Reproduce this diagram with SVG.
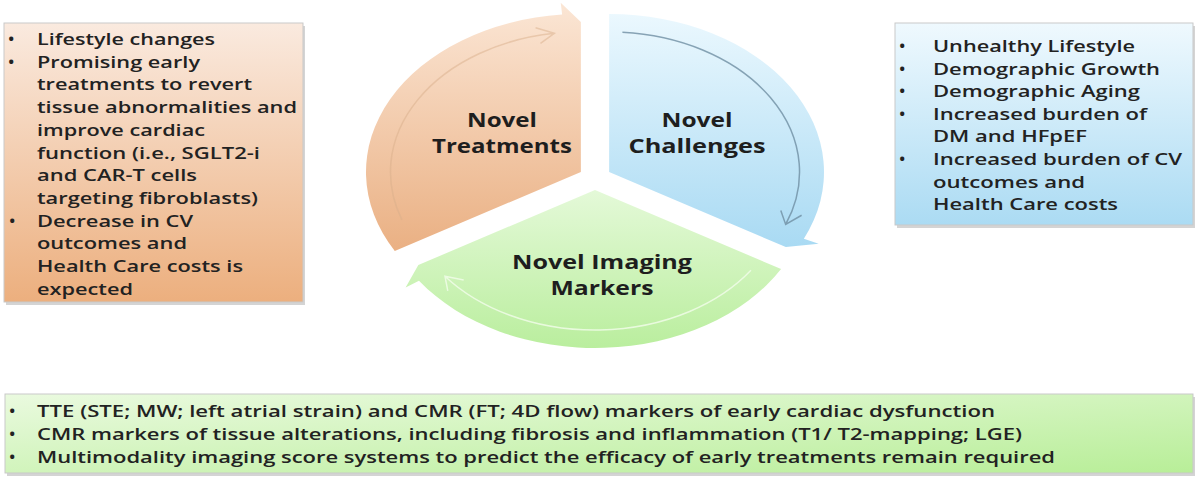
<svg xmlns="http://www.w3.org/2000/svg" width="1200" height="480" viewBox="0 0 1200 480">
<defs>
<linearGradient id="gOrBox" x1="0" y1="0" x2="0" y2="1"><stop offset="0" stop-color="#FAEADF"/><stop offset="1" stop-color="#ECAF7E"/></linearGradient>
<linearGradient id="gBlBox" x1="0" y1="0" x2="0" y2="1"><stop offset="0" stop-color="#EFF9FE"/><stop offset="1" stop-color="#ABDBF3"/></linearGradient>
<linearGradient id="gGrBox" x1="0" y1="0" x2="1" y2="1"><stop offset="0" stop-color="#EAFADF"/><stop offset="1" stop-color="#B8EE98"/></linearGradient>
<linearGradient id="gOr" x1="0" y1="0" x2="0" y2="1"><stop offset="0" stop-color="#FBE6D5"/><stop offset="1" stop-color="#EAB083"/></linearGradient>
<linearGradient id="gBl" x1="0" y1="0" x2="0" y2="1"><stop offset="0" stop-color="#EBF8FE"/><stop offset="1" stop-color="#A9DAF3"/></linearGradient>
<linearGradient id="gGr" x1="0" y1="0" x2="0" y2="1"><stop offset="0" stop-color="#E4F9D8"/><stop offset="1" stop-color="#BAEE9E"/></linearGradient>
</defs>
<style>
.box{stroke:#c9c9c9;stroke-width:1}
.sh{fill:#d4d4d4}
.t{font-family:"Open Sans","Liberation Sans",sans-serif;font-size:17px;font-weight:600;fill:#222}
.lbl{font-family:"Open Sans","Liberation Sans",sans-serif;font-size:19px;font-weight:700;fill:#1e1e1e;text-anchor:middle}
.inner{fill:none;stroke-width:1.5}
</style>

<g id="node-treatments-box">
<rect class="sh" x="6" y="26" width="299" height="279"/>
<rect class="box" x="4" y="23" width="299" height="279" fill="url(#gOrBox)"/>
<text class="t" x="8" y="45">•</text>
<text class="t" x="37" y="45" textLength="178" lengthAdjust="spacingAndGlyphs">Lifestyle changes</text>
<text class="t" x="8" y="67.7">•</text>
<text class="t" x="37" y="67.7" textLength="163" lengthAdjust="spacingAndGlyphs">Promising early</text>
<text class="t" x="37" y="90.4" textLength="215" lengthAdjust="spacingAndGlyphs">treatments to revert</text>
<text class="t" x="37" y="113.1" textLength="260" lengthAdjust="spacingAndGlyphs">tissue abnormalities and</text>
<text class="t" x="37" y="135.8" textLength="168" lengthAdjust="spacingAndGlyphs">improve cardiac</text>
<text class="t" x="37" y="158.5" textLength="223" lengthAdjust="spacingAndGlyphs">function (i.e., SGLT2-i</text>
<text class="t" x="37" y="181.2" textLength="160" lengthAdjust="spacingAndGlyphs">and CAR-T cells</text>
<text class="t" x="37" y="203.9" textLength="221" lengthAdjust="spacingAndGlyphs">targeting fibroblasts)</text>
<text class="t" x="9" y="226.6">•</text>
<text class="t" x="37" y="226.6" textLength="156" lengthAdjust="spacingAndGlyphs">Decrease in CV</text>
<text class="t" x="37" y="249.3" textLength="150" lengthAdjust="spacingAndGlyphs">outcomes and</text>
<text class="t" x="37" y="272" textLength="206" lengthAdjust="spacingAndGlyphs">Health Care costs is</text>
<text class="t" x="37" y="294.7" textLength="96" lengthAdjust="spacingAndGlyphs">expected</text>
</g>

<g id="node-challenges-box">
<rect class="sh" x="897" y="26" width="298" height="202"/>
<rect class="box" x="895" y="23" width="298" height="202" fill="url(#gBlBox)"/>
<text class="t" x="899" y="52">•</text>
<text class="t" x="933" y="52" textLength="202" lengthAdjust="spacingAndGlyphs">Unhealthy Lifestyle</text>
<text class="t" x="899" y="74.6">•</text>
<text class="t" x="933" y="74.6" textLength="227" lengthAdjust="spacingAndGlyphs">Demographic Growth</text>
<text class="t" x="899" y="97.2">•</text>
<text class="t" x="933" y="97.2" textLength="207" lengthAdjust="spacingAndGlyphs">Demographic Aging</text>
<text class="t" x="899" y="119.8">•</text>
<text class="t" x="933" y="119.8" textLength="214" lengthAdjust="spacingAndGlyphs">Increased burden of</text>
<text class="t" x="933" y="142.4" textLength="154" lengthAdjust="spacingAndGlyphs">DM and HFpEF</text>
<text class="t" x="899" y="165">•</text>
<text class="t" x="933" y="165" textLength="249" lengthAdjust="spacingAndGlyphs">Increased burden of CV</text>
<text class="t" x="933" y="187.6" textLength="152" lengthAdjust="spacingAndGlyphs">outcomes and</text>
<text class="t" x="933" y="210.2" textLength="185" lengthAdjust="spacingAndGlyphs">Health Care costs</text>
</g>

<g id="node-imaging-box">
<rect class="sh" x="7" y="397" width="1188" height="79"/>
<rect class="box" x="5" y="394" width="1188" height="79" fill="url(#gGrBox)"/>
<text class="t" x="9" y="417">•</text>
<text class="t" x="37" y="417" textLength="958" lengthAdjust="spacingAndGlyphs">TTE (STE; MW; left atrial strain) and CMR (FT; 4D flow) markers of early cardiac dysfunction</text>
<text class="t" x="9" y="440">•</text>
<text class="t" x="37" y="440" textLength="985" lengthAdjust="spacingAndGlyphs">CMR markers of tissue alterations, including fibrosis and inflammation (T1/ T2-mapping; LGE)</text>
<text class="t" x="9" y="462.5">•</text>
<text class="t" x="37" y="462.5" textLength="1018" lengthAdjust="spacingAndGlyphs">Multimodality imaging score systems to predict the efficacy of early treatments remain required</text>
</g>

<g id="node-novel-treatments">
<path d="M580.87 172 L394.78 251 A214.88 158 0 0 1 562.14 14.6 L560.72 2.65 L580.87 22 Z" fill="url(#gOr)"/>
<path class="inner" d="M401.95 219.88 A190.4 140 0 0 1 554.37 33.36 M540.48 43.38 L554.37 33.36 L535.58 27.79" stroke="#D9B08C" stroke-opacity="0.5"/>
<text class="lbl" x="502" y="127" textLength="70" lengthAdjust="spacingAndGlyphs">Novel</text>
<text class="lbl" x="502" y="153" textLength="140" lengthAdjust="spacingAndGlyphs">Treatments</text>
</g>

<g id="node-novel-challenges">
<path d="M609.13 172 L609.13 14 A214.88 158 0 0 1 803.87 238.77 L818.67 243.85 L785.8 247 Z" fill="url(#gBl)"/>
<path class="inner" d="M622.41 32.34 A190.4 140 0 0 1 785.67 224.44 M780.8 210.6 L785.67 224.44 L801.62 215.27" stroke="#6F8FA3" stroke-opacity="0.8"/>
<text class="lbl" x="697" y="127" textLength="71" lengthAdjust="spacingAndGlyphs">Novel</text>
<text class="lbl" x="697" y="153" textLength="137" lengthAdjust="spacingAndGlyphs">Challenges</text>
</g>

<g id="node-novel-imaging">
<path d="M595 190 L781.09 269 A214.88 158 0 0 1 418.98 280.63 L405.61 287.51 L418.33 265 Z" fill="url(#gGr)"/>
<path class="inner" d="M750.97 270.3 A190.4 140 0 0 1 444.96 276.19 M463.71 280.02 L444.96 276.19 L447.78 290.94" stroke="#F2FDEB" stroke-opacity="0.8"/>
<text class="lbl" x="602" y="269" textLength="180" lengthAdjust="spacingAndGlyphs">Novel Imaging</text>
<text class="lbl" x="602" y="295" textLength="103" lengthAdjust="spacingAndGlyphs">Markers</text>
</g>

<g id="connectors"></g>
</svg>
